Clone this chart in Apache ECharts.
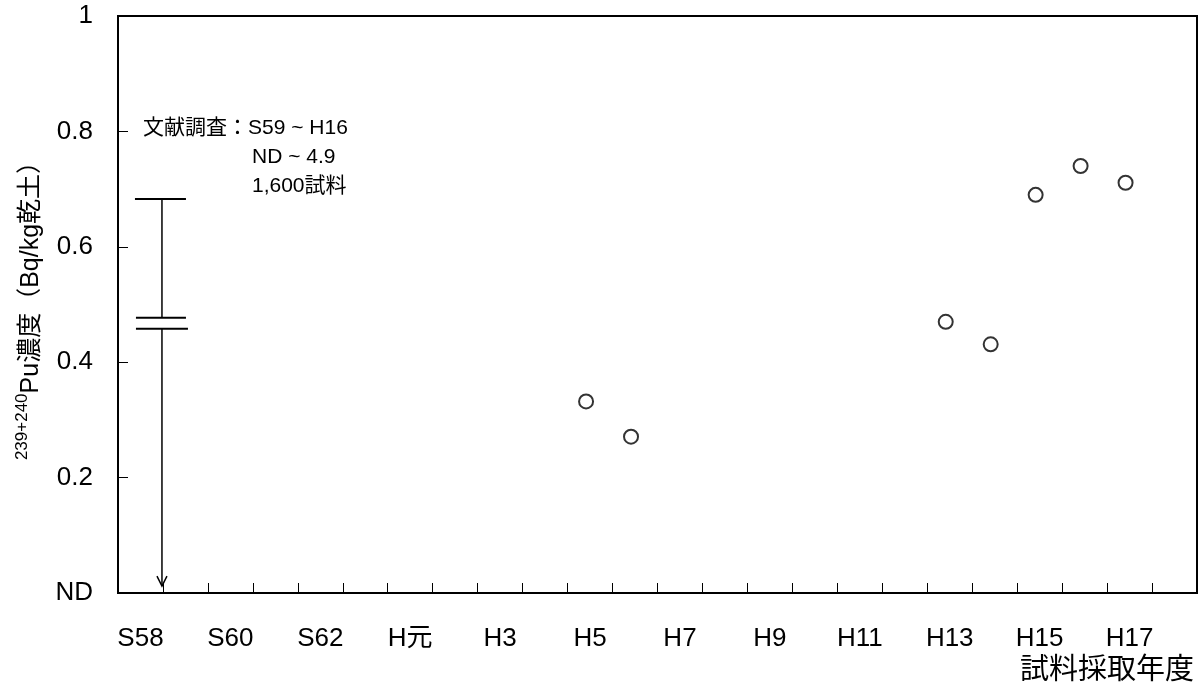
<!DOCTYPE html>
<html>
<head>
<meta charset="utf-8">
<script src="https://cdn.jsdelivr.net/npm/echarts@6/dist/echarts.min.js"></script>
<style>html,body{margin:0;padding:0;background:#fff;}#c{width:1203px;height:693px;}</style>
</head>
<body>
<div id="c"></div>
<script>
// Categories (fiscal years)
var categories = ['S58','S59','S60','S61','S62','S63','H元','H2','H3','H4','H5','H6','H7','H8','H9','H10','H11','H12','H13','H14','H15','H16','H17','H18'];
// Measured points
var pointYears = ['H5','H6','H13','H14','H15','H16','H17'];
var pointValues = [0.332, 0.271, 0.470, 0.431, 0.690, 0.740, 0.711];
// Literature survey range bar: [top, break upper, break lower, bottom]
var rangeYear = 'S58';
var rangeValues = [0.683, 0.477, 0.458, 0.012];
// Y tick labels
var yTickLabels = {0: 'ND', 0.2: '0.2', 0.4: '0.4', 0.6: '0.6', 0.8: '0.8', 1: '1'};
// Annotation
var noteLines = ['文献調査：S59 ~ H16', 'ND ~ 4.9', '1,600試料'];
var xAxisTitle = '試料採取年度';

var FONT = "'Liberation Sans', Arial, 'Noto Sans CJK JP', sans-serif";

var chart = echarts.init(document.getElementById('c'), null, {renderer: 'canvas'});

var scatterData = pointYears.map(function (c, i) { return [c, pointValues[i]]; });
var rangeData = [[categories.indexOf(rangeYear)].concat(rangeValues)];

var option = {
  backgroundColor: '#fff',
  animation: false,
  textStyle: {fontFamily: FONT, color: '#000'},
  grid: {left: 118, right: 6, top: 16, bottom: 100, show: true, borderColor: '#000', borderWidth: 2, backgroundColor: 'transparent'},
  xAxis: {
    type: 'category',
    data: categories,
    boundaryGap: true,
    axisLine: {lineStyle: {color: '#000', width: 2}},
    axisTick: {show: true, inside: true, length: 10, interval: 0, alignWithLabel: false, lineStyle: {color: '#000', width: 1}},
    axisLabel: {interval: 1, margin: 33, fontSize: 26, color: '#000', fontFamily: FONT},
    splitLine: {show: false}
  },
  yAxis: {
    type: 'value',
    min: 0, max: 1, interval: 0.2,
    name: '{sup|239+240}{main|Pu濃度（Bq/kg乾土）}',
    nameLocation: 'middle',
    nameGap: 74,
    nameTextStyle: {
      rich: {
        sup: {fontSize: 17, verticalAlign: 'top', fontFamily: FONT, color: '#000', lineHeight: 30},
        main: {fontSize: 25, verticalAlign: 'bottom', fontFamily: FONT, color: '#000', lineHeight: 30}
      }
    },
    axisLine: {show: true, lineStyle: {color: '#000', width: 2}},
    axisTick: {show: true, inside: true, length: 10, lineStyle: {color: '#000', width: 1}},
    axisLabel: {
      margin: 25, fontSize: 26, color: '#000', fontFamily: FONT,
      formatter: function (v) { var k = Math.round(v * 10) / 10; return yTickLabels[k] !== undefined ? yTickLabels[k] : String(k); }
    },
    splitLine: {show: false}
  },
  graphic: [
    {type: 'text', left: 143, top: 118, style: {text: noteLines[0], font: '21px ' + FONT, fill: '#000'}},
    {type: 'text', left: 252, top: 147, style: {text: noteLines[1], font: '21px ' + FONT, fill: '#000'}},
    {type: 'text', left: 252, top: 176, style: {text: noteLines[2], font: '21px ' + FONT, fill: '#000'}},
    {type: 'text', right: 9, top: 656, style: {text: xAxisTitle, font: '29px ' + FONT, fill: '#000'}}
  ],
  series: [
    {
      type: 'scatter',
      data: scatterData,
      symbol: 'circle',
      symbolSize: 14,
      symbolOffset: [-4, 0],
      itemStyle: {color: '#fff', borderColor: '#000', borderWidth: 2},
      z: 5
    },
    {
      type: 'custom',
      data: rangeData,
      encode: {x: 0, y: [1, 2, 3, 4]},
      renderItem: function (params, api) {
        var c = api.value(0);
        var half = api.size([1, 0])[0] / 2;
        var x = api.coord([c, 0])[0] + half - 1;
        var yTop = api.coord([c, api.value(1)])[1];
        var yHi = api.coord([c, api.value(2)])[1];
        var yLo = api.coord([c, api.value(3)])[1];
        var yBot = api.coord([c, api.value(4)])[1];
        var st = {stroke: '#000', lineWidth: 2, fill: null};
        var st1 = {stroke: '#000', lineWidth: 1.5, fill: null};
        return {
          type: 'group',
          children: [
            {type: 'line', shape: {x1: x - 27, y1: yTop, x2: x + 24, y2: yTop}, style: st},
            {type: 'line', shape: {x1: x, y1: yTop, x2: x, y2: yHi}, style: st1},
            {type: 'line', shape: {x1: x - 26, y1: yHi, x2: x + 24, y2: yHi}, style: st},
            {type: 'line', shape: {x1: x - 26, y1: yLo, x2: x + 26, y2: yLo}, style: st},
            {type: 'line', shape: {x1: x, y1: yLo, x2: x, y2: yBot}, style: st1},
            {type: 'polyline', shape: {points: [[x - 5, yBot - 10], [x, yBot], [x + 5, yBot - 10]]}, style: st1}
          ]
        };
      },
      z: 4
    }
  ]
};
chart.setOption(option);
</script>
</body>
</html>
